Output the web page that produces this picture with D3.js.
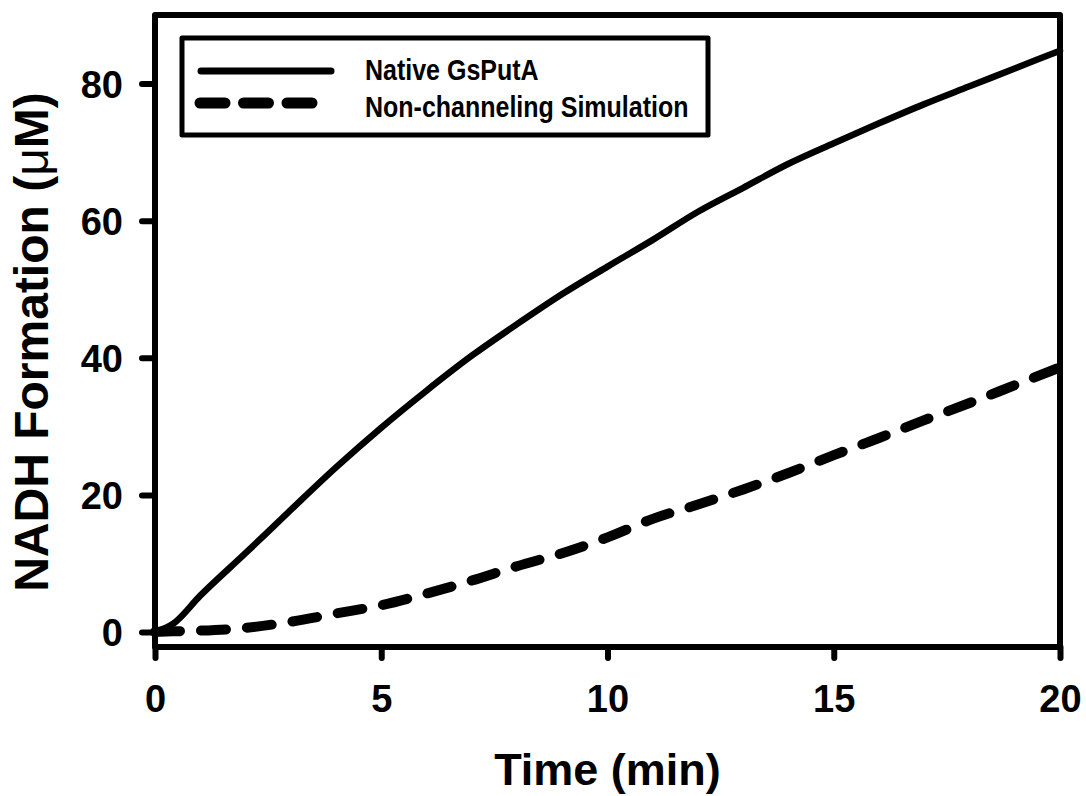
<!DOCTYPE html>
<html>
<head>
<meta charset="utf-8">
<style>
  body { margin: 0; background: #fff; }
  text { font-family: "Liberation Sans", Arial, sans-serif; font-weight: bold; fill: #000; }
</style>
</head>
<body>
<svg width="1086" height="796"></svg>
<script src="https://d3js.org/d3.v7.min.js"></script>
<script>
// time (min)
let time = [0, 0.4, 1, 2, 3, 4, 5, 6, 7, 8, 9, 10, 11, 12, 13, 14, 15, 16, 17, 18, 19, 20]
// NADH formation (uM)
let nativeGsPutA = [0, 1.2, 5.3, 11.5, 17.8, 24, 29.8, 35.2, 40.3, 44.9, 49.3, 53.3, 57.2, 61.3, 64.8, 68.3, 71.3, 74.2, 77, 79.6, 82.2, 84.8]
let nonChanneling = [0, 0.1, 0.2, 0.6, 1.5, 2.7, 3.9, 5.6, 7.5, 9.6, 11.5, 13.8, 16.5, 18.6, 20.8, 23.2, 25.8, 28.3, 30.9, 33.4, 36.0, 38.6]
let xTicks = [0, 5, 10, 15, 20]
let yTicks = [0, 20, 40, 60, 80]
let seriesNames = ["Native GsPutA", "Non-channeling Simulation"]

let svg = d3.select("svg")

let plotLeft = 155, plotRight = 1060, plotTop = 15, plotBottom = 647

let x = d3.scaleLinear().domain([0, 20]).range([plotLeft, plotRight])
let y = d3.scaleLinear().domain([0, 90]).range([632, plotTop])

// y axis ticks + labels
let yAxis = svg.append("g")
    .attr("transform", "translate(" + plotLeft + ",0)")
    .call(d3.axisLeft(y).tickValues(yTicks).tickSizeInner(13).tickSizeOuter(0).tickPadding(19))
yAxis.select(".domain").remove()
yAxis.selectAll("line").attr("stroke", "#000").attr("stroke-width", 6).attr("stroke-linecap", "round")
yAxis.selectAll("text").attr("font-size", 38).attr("font-family", null).attr("dy", "0.36em")

// x axis ticks + labels
let xAxis = svg.append("g")
    .attr("transform", "translate(0," + plotBottom + ")")
    .call(d3.axisBottom(x).tickValues(xTicks).tickSizeInner(11).tickSizeOuter(0).tickPadding(27))
xAxis.select(".domain").remove()
xAxis.selectAll("line").attr("stroke", "#000").attr("stroke-width", 6).attr("stroke-linecap", "round")
xAxis.selectAll("text").attr("font-size", 38).attr("font-family", null)

// frame
svg.append("rect")
    .attr("x", plotLeft).attr("y", plotTop)
    .attr("width", plotRight - plotLeft).attr("height", plotBottom - plotTop)
    .attr("fill", "none").attr("stroke", "#000").attr("stroke-width", 6)
    .attr("stroke-linejoin", "round")

let line = d3.line().x(d => x(d[0])).y(d => y(d[1])).curve(d3.curveMonotoneX)

svg.append("path")
    .datum(time.map((t, i) => [t, nativeGsPutA[i]]))
    .attr("d", line)
    .attr("fill", "none").attr("stroke", "#000").attr("stroke-width", 6.5)
    .attr("stroke-linecap", "round").attr("stroke-linejoin", "round")

svg.append("path")
    .datum(time.map((t, i) => [t, nonChanneling[i]]))
    .attr("d", line)
    .attr("fill", "none").attr("stroke", "#000").attr("stroke-width", 10)
    .attr("stroke-dasharray", "25 21")
    .attr("stroke-linecap", "round")

// legend
let legend = svg.append("g")
legend.append("rect")
    .attr("x", 182).attr("y", 38).attr("width", 526).attr("height", 97)
    .attr("fill", "#fff").attr("stroke", "#000").attr("stroke-width", 5)
    .attr("stroke-linejoin", "round")
legend.append("line")
    .attr("x1", 201).attr("x2", 331).attr("y1", 71).attr("y2", 71)
    .attr("stroke", "#000").attr("stroke-width", 7).attr("stroke-linecap", "round")
legend.append("line")
    .attr("x1", 200).attr("x2", 312).attr("y1", 103).attr("y2", 103)
    .attr("stroke", "#000").attr("stroke-width", 11).attr("stroke-linecap", "round")
    .attr("stroke-dasharray", "25 18.5")
legend.selectAll("text.lbl")
    .data(seriesNames)
    .enter()
    .append("text")
    .attr("class", "lbl")
    .attr("transform", (d, i) => "translate(365," + (80 + i * 37) + ") scale(1,1.16)")
    .attr("font-size", 25)
    .text(d => d)

// axis titles
svg.append("text")
    .attr("x", (plotLeft + plotRight) / 2).attr("y", 785)
    .attr("text-anchor", "middle").attr("font-size", 45)
    .text("Time (min)")

let yt = svg.append("text")
    .attr("transform", "translate(48,342) rotate(-90)")
    .attr("text-anchor", "middle").attr("font-size", 48)
yt.append("tspan").text("NADH Formation (")
yt.append("tspan").attr("font-weight", "normal").text("μ")
yt.append("tspan").text("M)")
</script>
</body>
</html>
